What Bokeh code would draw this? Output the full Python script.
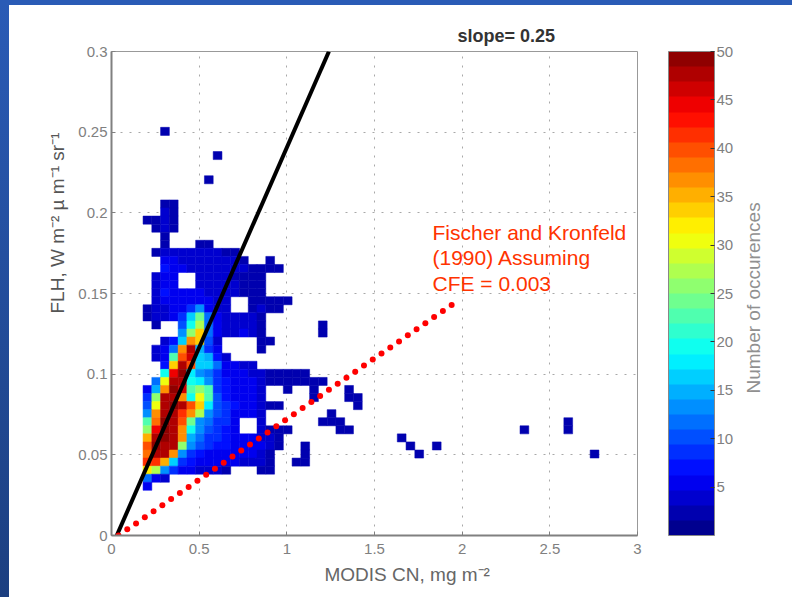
from bokeh.plotting import figure
from bokeh.models import (ColumnDataSource, LinearColorMapper, ColorBar, FixedTicker,
                          Label, Title, Range1d)
from bokeh.transform import transform
from bokeh.embed import file_html
from bokeh.resources import INLINE

# occurrences: row index -> runs of (first column index, counts)
count_rows = {
    49: [(5, [3])], 46: [(11, [3])], 43: [(10, [3])],
    40: [(5, [3, 3])], 39: [(5, [4, 3])],
    38: [(3, [3, 3, 4, 3])], 37: [(4, [3, 4, 3])], 36: [(5, [3])],
    35: [(5, [3]), (9, [3, 3])],
    34: [(4, [3, 4, 4, 4, 4, 4, 4, 4, 3, 3])],
    33: [(5, [5, 5, 4, 4, 4, 4, 4, 4, 4, 3]), (17, [3])],
    32: [(5, [7, 5, 5, 4, 4, 4, 4, 4, 4, 4, 3, 3, 3, 3])],
    31: [(4, [4, 6, 5]), (9, [4, 4, 4, 4, 3, 3, 3, 3])],
    30: [(4, [4, 6, 5]), (9, [4, 4, 4, 4, 4, 3, 3, 3])],
    29: [(4, [4, 7, 6, 5, 5, 5, 4, 4, 4, 4, 3, 3, 3])],
    28: [(4, [4, 5, 5, 5, 5, 5, 5, 4, 4]), (15, [3, 3, 3, 3, 3])],
    27: [(3, [3, 4, 4, 5, 5, 8, 13, 6, 4, 4]), (15, [3, 4, 3, 3])],
    26: [(3, [3, 4, 4, 5, 8, 16, 24, 12, 5, 4, 4, 4, 4, 3])],
    25: [(4, [3]), (7, [10, 20, 28, 12, 5, 4, 4, 4, 4, 3]), (23, [3])],
    24: [(7, [13, 26, 33, 12, 5, 4, 4, 5, 4, 3]), (23, [3])],
    23: [(5, [4, 7, 17, 36, 34, 10, 4]), (16, [3, 3])],
    22: [(4, [4, 5, 12, 36, 47, 15, 8, 5]), (16, [3])],
    21: [(4, [4, 6, 22, 40, 46, 16, 15, 7, 4])],
    20: [(5, [7, 33, 48, 40, 16, 16, 11, 6, 5, 4, 4])],
    19: [(5, [20, 45, 49, 18, 14, 12, 9, 6, 5, 5, 4, 4, 3, 3, 3, 3, 3])],
    18: [(4, [11, 30, 48, 47, 20, 18, 14, 9, 7, 6, 5, 5, 4, 3, 3, 3, 3, 3, 3, 3])],
    17: [(3, [6, 15, 36, 49, 46, 22, 26, 22, 9, 7, 6, 5, 5, 4]), (19, [3]), (22, [3]), (26, [3])],
    16: [(3, [8, 25, 47, 47, 36, 20, 30, 22, 10, 7, 6, 5, 5, 4]), (22, [3]), (26, [3, 3])],
    15: [(3, [10, 30, 47, 49, 47, 40, 33, 18, 10, 8, 7, 6, 5, 4, 3, 3]), (27, [3])],
    14: [(3, [13, 36, 47, 48, 42, 37, 28, 13, 10, 8, 6, 6, 5, 4]), (24, [3])],
    13: [(3, [22, 38, 49, 48, 40, 24, 13, 11, 9, 8, 6]), (16, [4]), (23, [3, 3, 3]), (51, [3])],
    12: [(3, [26, 44, 50, 48, 36, 20, 13, 10, 9, 7, 6]), (16, [4, 3, 3, 3]), (25, [3, 3]), (46, [3]), (51, [3])],
    11: [(3, [35, 48, 49, 48, 36, 15, 11, 9, 8, 7, 6, 5, 5, 4, 4, 3]), (32, [3])],
    10: [(3, [40, 50, 48, 47, 26, 13, 10, 8, 7, 7, 6, 5, 5, 5, 4, 3]), (21, [3]), (33, [3]), (36, [3])],
    9: [(3, [38, 48, 47, 36, 14, 9, 7, 6, 6, 6, 5, 5, 5, 4, 3]), (21, [3]), (34, [3]), (54, [3])],
    8: [(3, [42, 42, 35, 16, 9, 7, 6, 5, 5, 5, 5, 4, 4, 4, 3]), (20, [3, 3])],
    7: [(3, [32, 28, 14, 8, 6, 5, 4, 4, 4, 3]), (16, [3, 3])],
    6: [(3, [12, 5, 4])],
    5: [(3, [6])],
}
bin_w = 0.05
bin_h = 0.005
first_x = 0.055
first_y = 0.0055

x_ticks = [0, 0.5, 1, 1.5, 2, 2.5, 3]
y_ticks = [0, 0.05, 0.1, 0.15, 0.2, 0.25, 0.3]
bar_ticks = [5, 10, 15, 20, 25, 30, 35, 40, 45, 50]

fit_x = [0.03, 1.24]
fit_y = [0.0, 0.3]

fischer_x = [0.04, 0.09, 0.14, 0.19, 0.24, 0.29, 0.34, 0.39, 0.44, 0.49, 0.54, 0.59, 0.64,
             0.69, 0.74, 0.79, 0.84, 0.89, 0.94, 0.99, 1.04, 1.09, 1.14, 1.19, 1.24, 1.29,
             1.34, 1.39, 1.44, 1.49, 1.54, 1.59, 1.64, 1.69, 1.74, 1.79, 1.84, 1.89, 1.94]
fischer_y = [0, .0038, .0075, .0113, .015, .0188, .0226, .0263, .0301, .0339, .0376, .0414,
             .0451, .0489, .0527, .0564, .0602, .0639, .0677, .0715, .0752, .079, .0827,
             .0865, .0903, .094, .0978, .1015, .1053, .1091, .1128, .1166, .1203, .1241,
             .1279, .1316, .1354, .1391, .1429]


def jet(n):
    out = []
    for i in range(n):
        t = (i + 0.5) / n * 4
        r = min(max(min(t - 1.5, 4.5 - t), 0), 1)
        g = min(max(min(t - 0.5, 3.5 - t), 0), 1)
        b = min(max(min(t + 0.5, 2.5 - t), 0), 1)
        out.append("#%02x%02x%02x" % (int(r * 255), int(g * 255), int(b * 255)))
    return out


xs, ys, vals = [], [], []
for row, runs in count_rows.items():
    for start, counts in runs:
        for i, c in enumerate(counts):
            xs.append(first_x + bin_w * (start + i))
            ys.append(first_y + bin_h * row)
            vals.append(c)

mapper = LinearColorMapper(palette=jet(32), low=0, high=50)

slide_bg = ("linear-gradient(#2a5bb6,#2a5bb6) top left/100% 5px no-repeat,"
            "linear-gradient(#2a5bb6,#1c3f80) top left/9px 100% no-repeat,white")
p = figure(width=792, height=597, frame_width=526, frame_height=484,
           x_range=Range1d(0, 3), y_range=Range1d(0, 0.3),
           output_backend="svg", toolbar_location=None,
           min_border_left=111, min_border_right=155, min_border_top=51, min_border_bottom=62,
           margin=(0, 0, 0, 0), styles={"background": slide_bg})
p.background_fill_color = "white"
p.border_fill_color = None
p.outline_line_color = "#999999"
p.outline_line_width = 1

tick_style = dict(major_label_text_font="Liberation Sans", major_label_text_font_size="15px",
                  major_label_text_color="#808080", axis_line_color="#808080", axis_line_width=2,
                  major_tick_line_color="#808080", major_tick_in=4, major_tick_out=0,
                  minor_tick_line_color=None)
for ax, ticks in ((p.xaxis[0], x_ticks), (p.yaxis[0], y_ticks)):
    ax.ticker = FixedTicker(ticks=ticks)
    ax.major_label_overrides = {t: str(t) for t in ticks}
    for k, v in tick_style.items():
        setattr(ax, k, v)
p.xaxis[0].major_label_standoff = 8
p.yaxis[0].major_label_standoff = 4

for g in (p.xgrid[0], p.ygrid[0]):
    g.grid_line_color = "#a8a8a8"
    g.grid_line_dash = "2 7"
    g.grid_line_width = 1
p.xgrid[0].ticker = FixedTicker(ticks=x_ticks)
p.ygrid[0].ticker = FixedTicker(ticks=y_ticks)

src = ColumnDataSource(dict(x=xs, y=ys, v=vals))
p.rect("x", "y", width=bin_w, height=bin_h, source=src,
       fill_color=transform("v", mapper), line_color=transform("v", mapper), line_width=0.5)
p.line(fit_x, fit_y, line_color="black", line_width=4)
p.scatter(fischer_x, fischer_y, marker="circle", size=6, color="#ff0000", line_color=None)

p.add_layout(Label(text="Number of occurences", x=763, y=393, x_units="canvas", y_units="canvas",
                   text_font="Liberation Sans", text_font_size="19px", text_color="#909090",
                   angle=90, angle_units="deg"), "right")


def side_title(side, text, offset, standoff, size, color, style="normal"):
    p.add_layout(Title(text=text, align="left", offset=offset, standoff=standoff,
                       text_font="Liberation Sans", text_font_size=size,
                       text_font_style=style, text_color=color), side)


side_title("below", "MODIS CN, mg m\u207b\u00b2", 213, 11, "19px", "#666666")
side_title("left", "FLH, W m\u207b\u00b2 \u00b5 m\u207b\u00b9 sr\u207b\u00b9", 222, 16, "19px", "#555555")
side_title("above", "slope= 0.25", 346, 12, "18px", "#333333", style="bold")

for t, y in (("Fischer and Kronfeld", 232), ("(1990) Assuming", 257), ("CFE = 0.003", 283)):
    p.add_layout(Label(text=t, x=432, y=y, x_units="canvas", y_units="canvas",
                       text_font="Liberation Sans", text_font_size="21px", text_color="#ff3300",
                       text_baseline="middle"))

cb = ColorBar(color_mapper=mapper, ticker=FixedTicker(ticks=bar_ticks), width=46, height=484,
              location=(557, 0), margin=0, padding=0,
              major_label_text_font="Liberation Sans", major_label_text_font_size="15px",
              major_label_text_color="#808080", major_tick_line_color="#333333",
              major_tick_in=4, major_tick_out=0, bar_line_color="#888888", label_standoff=2)
p.add_layout(cb)

open("out.html", "w").write(file_html(p, INLINE))
